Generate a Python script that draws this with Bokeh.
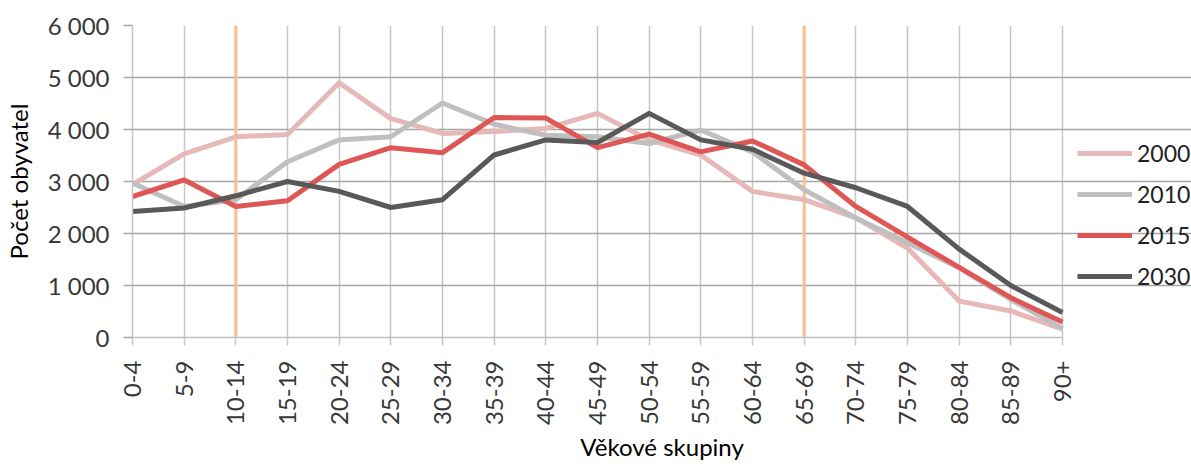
import math
from bokeh.plotting import figure
from bokeh.models import FixedTicker, Legend, LegendItem, Range1d, ColumnDataSource
from bokeh.embed import file_html
from bokeh.resources import INLINE

groups = ["0-4", "5-9", "10-14", "15-19", "20-24", "25-29", "30-34", "35-39", "40-44",
          "45-49", "50-54", "55-59", "60-64", "65-69", "70-74", "75-79", "80-84", "85-89", "90+"]
y2000 = [2940, 3530, 3860, 3905, 4900, 4210, 3925, 3960, 4020, 4310, 3800, 3510, 2810, 2650, 2300, 1720, 700, 510, 160]
y2010 = [2970, 2520, 2650, 3380, 3800, 3860, 4510, 4100, 3890, 3860, 3730, 3990, 3570, 2840, 2300, 1820, 1340, 730, 170]
y2015 = [2710, 3030, 2520, 2630, 3330, 3650, 3555, 4230, 4220, 3650, 3910, 3570, 3780, 3320, 2520, 1930, 1350, 765, 300]
y2030 = [2425, 2490, 2725, 3000, 2810, 2500, 2650, 3510, 3800, 3750, 4310, 3800, 3620, 3160, 2880, 2520, 1700, 1000, 480]
series_names = ["2000", "2010", "2015", "2030"]
highlight_groups = ["10-14", "65-69"]
y_ticks = [0, 1000, 2000, 3000, 4000, 5000, 6000]
y_tick_labels = ["0", "1 000", "2 000", "3 000", "4 000", "5 000", "6 000"]

colors = ["#E6B9B8", "#BFBFBF", "#DF5656", "#595959"]
FONT = "Lato"

xs = list(range(len(groups)))
last = len(groups) - 1

# frame spans 132..1191 px; the data part (0..last) occupies 930 px of it,
# the rest on the right holds the legend
W, H = 1191, 464
LEFT, TOP, BOTTOM = 132, 25, 125
data_px = 930
frame_px = W - LEFT
x_end = last * frame_px / data_px

p = figure(width=W, height=H, output_backend="svg", toolbar_location=None,
           x_range=Range1d(0, x_end), y_range=Range1d(y_ticks[0], y_ticks[-1]),
           min_border_left=LEFT, min_border_right=0, min_border_top=TOP, min_border_bottom=BOTTOM)
p.outline_line_color = None
p.background_fill_color = "white"

# grids
p.xgrid.ticker = FixedTicker(ticks=xs)
p.xgrid.grid_line_color = "#C6C6C6"
p.xgrid.grid_line_width = 1.5
p.ygrid.ticker = FixedTicker(ticks=y_ticks)
p.ygrid.grid_line_color = "#A6A6A6"
p.ygrid.grid_line_width = 1.5
p.ygrid.bounds = (0, last)

# x axis
p.xaxis.ticker = FixedTicker(ticks=xs)
p.xaxis.bounds = (0, last)
p.xaxis.major_label_overrides = {i: g for i, g in enumerate(groups)}
p.xaxis.major_label_orientation = math.pi / 2
p.xaxis.major_label_text_font = FONT
p.xaxis.major_label_text_font_size = "24px"
p.xaxis.major_label_text_color = "#383838"
p.xaxis.major_label_standoff = 15
p.xaxis.major_tick_out = 8
p.xaxis.major_tick_in = 0
p.xaxis.minor_tick_line_color = None
p.xaxis.major_tick_line_color = "#C6C6C6"
p.xaxis.major_tick_line_width = 1.5
p.xaxis.axis_line_color = "#BFBFBF"
p.xaxis.axis_line_width = 1.5
p.xaxis.axis_label = "Věkové skupiny"
p.xaxis.axis_label_text_font = FONT
p.xaxis.axis_label_text_font_style = "normal"
p.xaxis.axis_label_text_font_size = "24px"
p.xaxis.axis_label_text_color = "#000000"
p.xaxis.axis_label_standoff = 4

# y axis
p.yaxis.ticker = FixedTicker(ticks=y_ticks)
p.yaxis.major_label_overrides = {t: l for t, l in zip(y_ticks, y_tick_labels)}
p.yaxis.major_label_text_font = FONT
p.yaxis.major_label_text_font_size = "24px"
p.yaxis.major_label_text_color = "#383838"
p.yaxis.major_label_standoff = 14
p.yaxis.major_tick_out = 9
p.yaxis.major_tick_in = 0
p.yaxis.minor_tick_line_color = None
p.yaxis.major_tick_line_color = "#A6A6A6"
p.yaxis.major_tick_line_width = 1.5
p.yaxis.axis_line_color = "#C6C6C6"
p.yaxis.axis_line_width = 1.5
p.yaxis.axis_label = "Počet obyvatel"
p.yaxis.axis_label_text_font = FONT
p.yaxis.axis_label_text_font_style = "normal"
p.yaxis.axis_label_text_font_size = "24px"
p.yaxis.axis_label_text_color = "#000000"
p.yaxis.axis_label_standoff = 12

# highlight vertical lines
hx = [groups.index(g) for g in highlight_groups]
p.segment(x0=hx, x1=hx, y0=[y_ticks[0]] * len(hx), y1=[y_ticks[-1]] * len(hx),
          line_color="#FAC090", line_width=3)

renderers = []
for name, ys, c in zip(series_names, [y2000, y2010, y2015, y2030], colors):
    src = ColumnDataSource(dict(x=xs, y=ys))
    r = p.line("x", "y", source=src, line_color=c, line_width=5, line_join="round")
    renderers.append(r)

legend = Legend(items=[LegendItem(label=n, renderers=[r]) for n, r in zip(series_names, renderers)],
                location=(data_px + 15, 47), orientation="vertical")
legend.background_fill_alpha = 0
legend.border_line_color = None
legend.padding = 0
legend.margin = 0
legend.spacing = 13
legend.glyph_width = 55
legend.glyph_height = 20
legend.label_height = 20
legend.label_standoff = 5
legend.label_text_font = FONT
legend.label_text_font_size = "23px"
legend.label_text_color = "#222222"
p.add_layout(legend, "center")

open("out.html", "w").write(file_html(p, INLINE))
